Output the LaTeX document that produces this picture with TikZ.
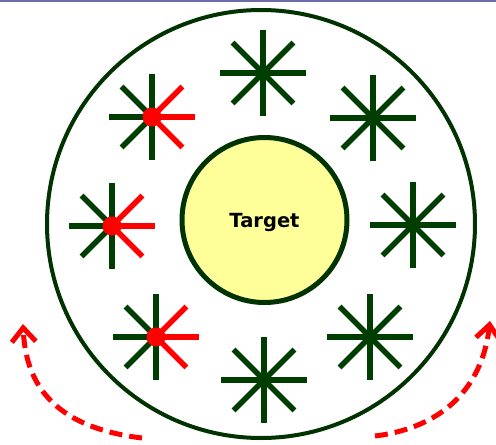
\documentclass[tikz,border=0pt]{standalone}
\usepackage{fontspec}
\setmainfont{DejaVu Sans}
\usetikzlibrary{arrows.meta}
\definecolor{dkgreen}{HTML}{003300}
\definecolor{armgreen}{HTML}{003D00}
\definecolor{paleyellow}{HTML}{FFFF99}
\definecolor{topline}{HTML}{6B6BAB}
\tikzset{
  arm/.style={line width=5.5pt, armgreen},
  redarm/.style={line width=5.5pt, red},
  greenstar/.pic={
    \foreach \a in {0,45,...,315} \draw[arm] (0,0) -- (\a:43);
    \fill[armgreen] (0,0) circle (5.5pt);
  },
  redstar/.pic={
    \foreach \a in {90,135,...,270} \draw[arm] (0,0) -- (\a:43);
    \foreach \a in {-45,0,45} \draw[redarm] (0,0) -- (\a:43);
    \fill[red] (0,0) circle (9.5pt);
  },
  ring/.style={circle, draw=dkgreen, line width=4pt, minimum size=428pt, inner sep=0pt},
  target/.style={circle, draw=dkgreen, fill=paleyellow, line width=5pt, minimum size=165pt, inner sep=0pt, text depth=0pt, font=\fontsize{19.5}{22}\selectfont\bfseries},
  turn/.style={red, line width=5pt, dash pattern=on 13pt off 7pt, -{Straight Barb[length=14pt, width=24pt, line width=5pt]}},
}
\begin{document}
\begin{tikzpicture}[x=1pt, y=-1pt]
\useasboundingbox (0,0) rectangle (496,445);
\fill[white] (0,0) rectangle (496,445);
\draw[topline, line width=1.5pt] (0,0.75) -- (496,0.75);
\node[ring] (ring) at (261,224) {};
\node[target] (target) at (264.5,220) {Target};
\pic at (263,73) {greenstar};
\pic at (373,118) {greenstar};
\pic at (413,225) {greenstar};
\pic at (370,337) {greenstar};
\pic at (264,380) {greenstar};
\pic at (152,117) {redstar};
\pic at (112,226) {redstar};
\pic at (156,337) {redstar};
\coordinate (l0) at (142,438);
\coordinate (l1) at (23,324);
\coordinate (r0) at (375,436);
\coordinate (r1) at (490,321);
\draw[turn] (l0) .. controls (60,428) and (26,390) .. (l1);
\draw[turn] (r0) .. controls (440,428) and (482,390) .. (r1);
\end{tikzpicture}
\end{document}
